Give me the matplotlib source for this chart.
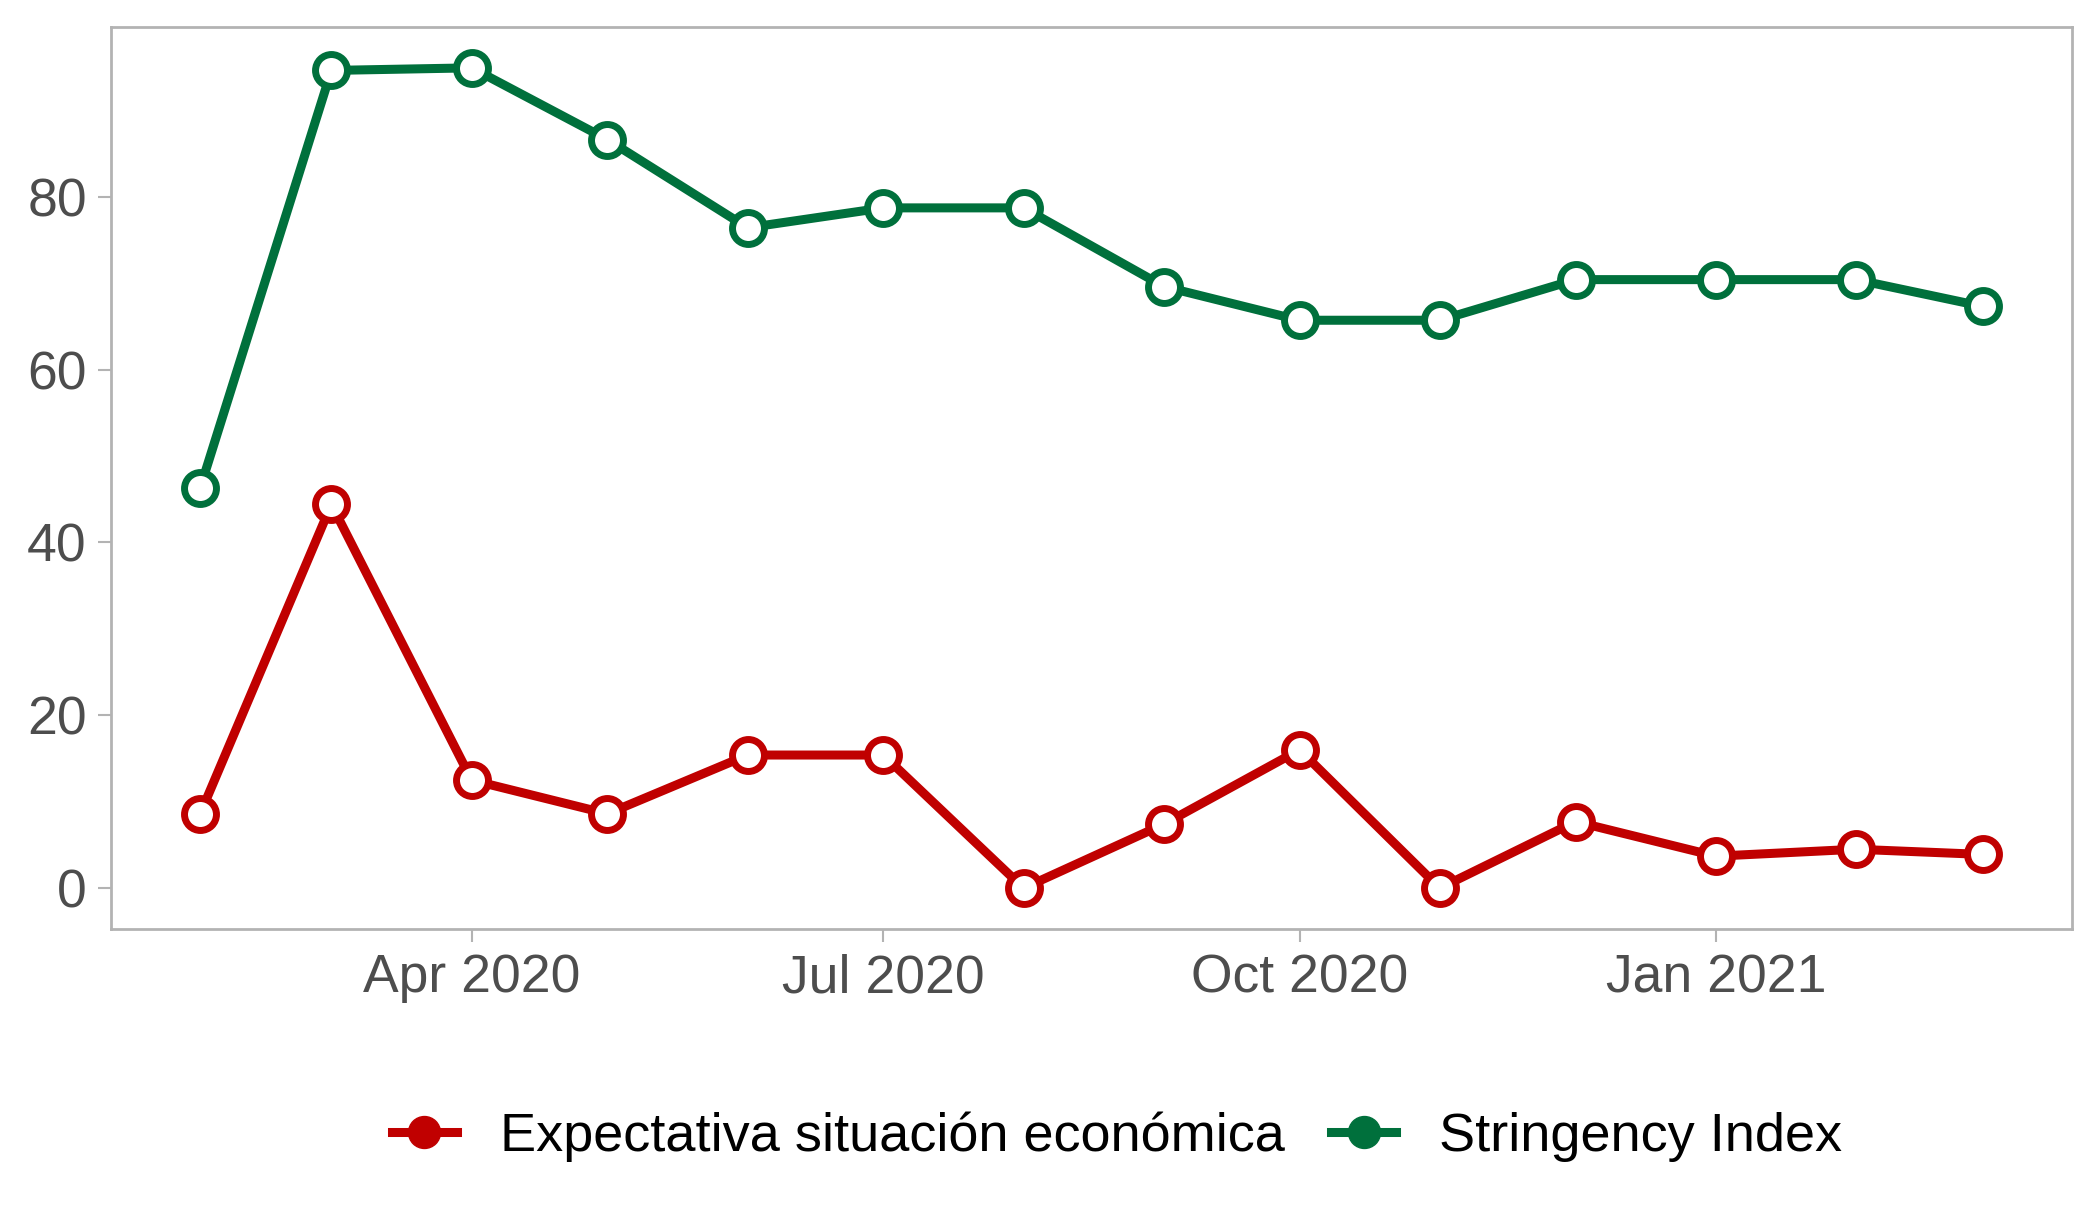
import matplotlib
matplotlib.use("Agg")
import matplotlib.pyplot as plt
import matplotlib.dates as mdates
from matplotlib.lines import Line2D
import numpy as np
import pandas as pd

plt.rcParams['font.family'] = ['Liberation Sans', 'DejaVu Sans']

# monthly observations, Feb 2020 - Mar 2021
months = pd.date_range("2020-02-01", "2021-03-01", freq="MS")
expectativa = [8.6, 44.4, 12.5, 8.6, 15.4, 15.4, 0.0, 7.4, 16.0, 0.0, 7.7, 3.7, 4.5, 3.9]
stringency = [46.3, 94.6, 94.9, 86.6, 76.4, 78.7, 78.7, 69.6, 65.7, 65.7, 70.4, 70.4, 70.4, 67.3]

series_names = ["Expectativa situación económica", "Stringency Index"]
series_colors = ["#C00000", "#00703C"]

tick_dates = pd.to_datetime(["2020-04-01", "2020-07-01", "2020-10-01", "2021-01-01"])
y_ticks = [0, 20, 40, 60, 80]

fig = plt.figure(figsize=(21, 12.25), dpi=100)
ax = fig.add_axes([0.0529, 0.2415, 0.9337, 0.7366])

lw = 6.5
ms = 23
for vals, col in zip([expectativa, stringency], series_colors):
    ax.plot(months, vals, color=col, lw=lw, marker='o', ms=ms,
            markerfacecolor='white', markeredgecolor=col, markeredgewidth=5,
            zorder=3)

ax.margins(x=0.05, y=0.05)
ax.set_xticks(tick_dates)
ax.xaxis.set_major_formatter(mdates.DateFormatter("%b %Y"))
ax.set_yticks(y_ticks)

for s in ax.spines.values():
    s.set_color("#B3B3B3")
    s.set_linewidth(2)
ax.tick_params(axis='both', colors="#B3B3B3", length=9.5, width=1.5,
               labelsize=38.5, labelcolor="#4D4D4D", pad=8)
ax.grid(False)

handles = [Line2D([], [], color=c, lw=lw, marker='o', ms=ms, markerfacecolor=c,
                  markeredgecolor=c) for c in series_colors]
fig.legend(handles, series_names, loc='center', bbox_to_anchor=(0.532, 0.072),
           ncol=2, frameon=False, fontsize=39, handlelength=1.2,
           handletextpad=0.8, columnspacing=0.85)

fig.savefig("out.png", dpi=100)
